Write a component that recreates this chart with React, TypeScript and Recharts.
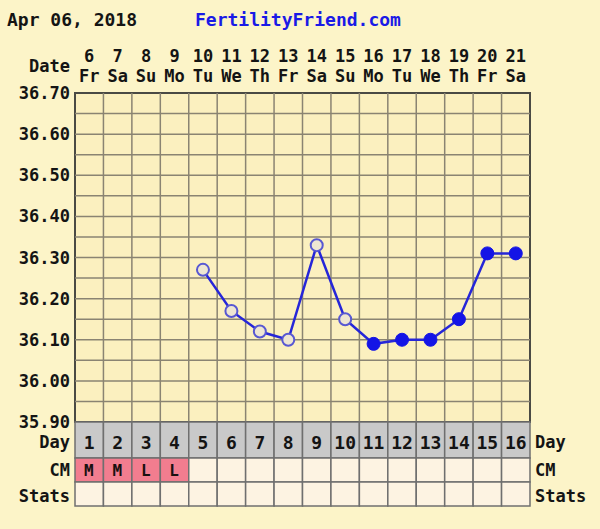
import React from 'react';
import { ComposedChart, Line, XAxis, YAxis, ReferenceLine, ReferenceArea } from 'recharts';

const cycleDays = [1, 2, 3, 4, 5, 6, 7, 8, 9, 10, 11, 12, 13, 14, 15, 16];
const dateLabels = ['6', '7', '8', '9', '10', '11', '12', '13', '14', '15', '16', '17', '18', '19', '20', '21'];
const weekdayLabels = ['Fr', 'Sa', 'Su', 'Mo', 'Tu', 'We', 'Th', 'Fr', 'Sa', 'Su', 'Mo', 'Tu', 'We', 'Th', 'Fr', 'Sa'];
const temperatures = [null, null, null, null, 36.27, 36.17, 36.12, 36.1, 36.33, 36.15, 36.09, 36.1, 36.1, 36.15, 36.31, 36.31];
const filledPoints = [false, false, false, false, false, false, false, false, false, false, true, true, true, true, true, true];
const cmValues = ['M', 'M', 'L', 'L', '', '', '', '', '', '', '', '', '', '', '', ''];
const tempTicks = [35.9, 36.0, 36.1, 36.2, 36.3, 36.4, 36.5, 36.6, 36.7];
const gridTemps = [35.95, 36.0, 36.05, 36.1, 36.15, 36.2, 36.25, 36.3, 36.35, 36.4, 36.45, 36.5, 36.55, 36.6, 36.65];
const gridDays = [1.5, 2.5, 3.5, 4.5, 5.5, 6.5, 7.5, 8.5, 9.5, 10.5, 11.5, 12.5, 13.5, 14.5, 15.5];

const data = cycleDays.map((d, i) => ({
  day: d,
  temp: temperatures[i],
  filled: filledPoints[i],
  cm: cmValues[i],
  date: dateLabels[i],
  wd: weekdayLabels[i],
}));

const W = 600;
const H = 529;
const FONT = '"DejaVu Sans Mono", "Liberation Mono", monospace';
const BG = '#fcf4c8';
const PLOT_BG = '#fbf0bf';
const TEXT = '#141414';
const COL_W = (600 - 75 - 70) / 16;

const TopTick = (props: any) => {
  const { x, y, payload } = props;
  const i = payload.index ?? cycleDays.indexOf(payload.value);
  return (
    <g>
      <text x={x} y={y - 31} textAnchor="middle" fontFamily={FONT} fontWeight="bold" fontSize={17} fill={TEXT}>
        {dateLabels[i]}
      </text>
      <text x={x} y={y - 11} textAnchor="middle" fontFamily={FONT} fontWeight="bold" fontSize={17} fill={TEXT}>
        {weekdayLabels[i]}
      </text>
    </g>
  );
};

const BottomTick = (props: any) => {
  const { x, y, payload } = props;
  const i = payload.index ?? cycleDays.indexOf(payload.value);
  const left = x - COL_W / 2;
  const cm = cmValues[i];
  return (
    <g>
      <rect x={left} y={y} width={COL_W} height={36} fill="#c9c9c9" stroke="#6f6f6f" strokeWidth={1.5} />
      <text x={x} y={y + 27} textAnchor="middle" fontFamily={FONT} fontWeight="bold" fontSize={18} fill={TEXT}>
        {cycleDays[i]}
      </text>
      <rect x={left} y={y + 36} width={COL_W} height={24} fill={cm ? '#f27d8f' : '#fdf3e2'} stroke="#6f6f6f" strokeWidth={1.5} />
      {cm ? (
        <text x={left + 9} y={y + 54} textAnchor="start" fontFamily={FONT} fontWeight="bold" fontSize={16} fill="#1a1010">
          {cm}
        </text>
      ) : null}
      <rect x={left} y={y + 60} width={COL_W} height={24} fill="#fdf3e2" stroke="#6f6f6f" strokeWidth={1.5} />
    </g>
  );
};

const TempDot = (props: any) => {
  const { cx, cy, payload, index } = props;
  if (cx == null || cy == null || payload.temp == null) return <g key={`d${index}`} />;
  if (payload.filled) {
    return <circle key={`d${index}`} cx={cx} cy={cy} r={6.5} fill="#1414e6" stroke="#1414e6" strokeWidth={1} />;
  }
  return <circle key={`d${index}`} cx={cx} cy={cy} r={6} fill="#eee6d2" stroke="#5858d2" strokeWidth={2} />;
};

const fmt = (v: number) => v.toFixed(2);

export default function App() {
  const labelStyle = { fontFamily: FONT, fontWeight: 'bold' as const, fontSize: 17, fill: TEXT };
  return (
    <div style={{ position: 'absolute', left: 0, top: 0, width: W, height: H, background: BG, overflow: 'hidden' }}>
      <ComposedChart width={W} height={H} data={data} margin={{ top: 33, right: 5, bottom: 23, left: 5 }}>
        <XAxis
          xAxisId="top"
          orientation="top"
          dataKey="day"
          type="number"
          domain={[0.5, 16.5]}
          ticks={cycleDays}
          height={60}
          axisLine={false}
          tickLine={false}
          tickSize={0}
          tickMargin={0}
          interval={0}
          tick={<TopTick />}
        />
        <XAxis
          xAxisId="bottom"
          orientation="bottom"
          dataKey="day"
          type="number"
          domain={[0.5, 16.5]}
          ticks={cycleDays}
          height={84}
          axisLine={false}
          tickLine={false}
          tickSize={0}
          tickMargin={0}
          interval={0}
          tick={<BottomTick />}
        />
        <YAxis
          yAxisId="left"
          orientation="left"
          type="number"
          domain={[35.9, 36.7]}
          ticks={tempTicks}
          width={70}
          axisLine={false}
          tickLine={false}
          tickSize={0}
          tickMargin={5}
          interval={0}
          tickFormatter={fmt}
          tick={labelStyle}
        />
        <YAxis
          yAxisId="right"
          orientation="right"
          type="number"
          domain={[35.9, 36.7]}
          ticks={tempTicks}
          width={65}
          axisLine={false}
          tickLine={false}
          tickSize={0}
          tickMargin={5}
          interval={0}
          tickFormatter={fmt}
          tick={{ ...labelStyle, textAnchor: 'start' }}
        />
        <ReferenceArea xAxisId="bottom" yAxisId="left" x1={0.5} x2={16.5} y1={35.9} y2={36.7} fill={PLOT_BG} fillOpacity={1} stroke="none" />
        {gridTemps.map((t) => (
          <ReferenceLine key={`h${t}`} xAxisId="bottom" yAxisId="left" y={t} stroke="#8a8472" strokeWidth={1.5} />
        ))}
        {gridDays.map((d) => (
          <ReferenceLine key={`v${d}`} xAxisId="bottom" yAxisId="left" x={d} stroke="#8a8472" strokeWidth={1.5} />
        ))}
        <ReferenceArea xAxisId="bottom" yAxisId="left" x1={0.5} x2={16.5} y1={35.9} y2={36.7} fill="none" fillOpacity={0} stroke="#4a4a44" strokeWidth={2} />
        <Line
          xAxisId="bottom"
          yAxisId="left"
          dataKey="temp"
          type="linear"
          stroke="#2626d8"
          strokeWidth={2.5}
          dot={TempDot}
          activeDot={false}
          isAnimationActive={false}
          connectNulls={false}
        />
      </ComposedChart>
      <svg width={W} height={H} style={{ position: 'absolute', left: 0, top: 0, pointerEvents: 'none' }}>
        <text x={7} y={26} fontFamily={FONT} fontWeight="bold" fontSize={18} fill={TEXT}>Apr 06, 2018</text>
        <text x={195} y={26} fontFamily={FONT} fontWeight="bold" fontSize={18} fill="#1a1ae6">FertilityFriend.com</text>
        <text x={70} y={72} textAnchor="end" {...labelStyle}>Date</text>
        <text x={70} y={448} textAnchor="end" {...labelStyle}>Day</text>
        <text x={70} y={476} textAnchor="end" {...labelStyle}>CM</text>
        <text x={70} y={502} textAnchor="end" {...labelStyle}>Stats</text>
        <text x={535} y={448} textAnchor="start" {...labelStyle}>Day</text>
        <text x={535} y={476} textAnchor="start" {...labelStyle}>CM</text>
        <text x={535} y={502} textAnchor="start" {...labelStyle}>Stats</text>
      </svg>
    </div>
  );
}
